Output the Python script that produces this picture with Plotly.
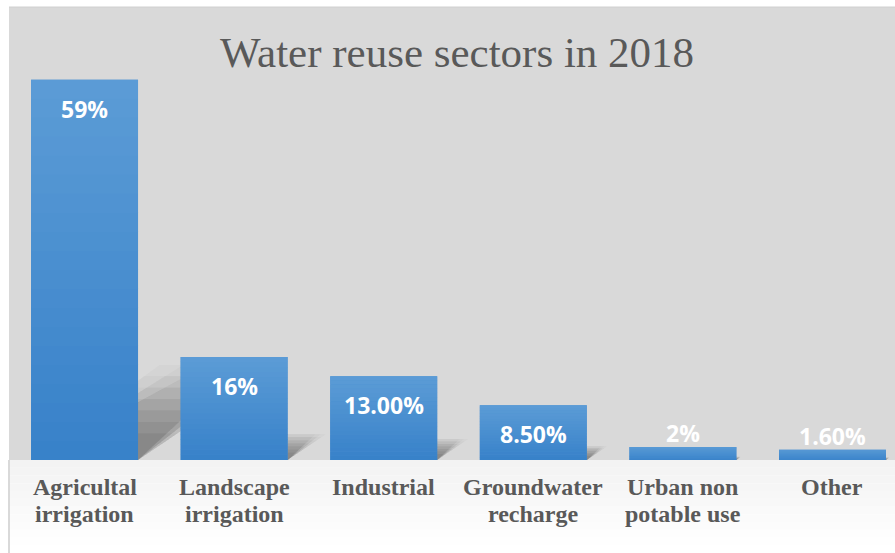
import plotly.graph_objects as go

categories = ["Agricultal<br>irrigation", "Landscape<br>irrigation", "Industrial",
              "Groundwater<br>recharge", "Urban non<br>potable use", "Other"]
values = [59, 16, 13, 8.5, 2, 1.6]
labels = ["59%", "16%", "13.00%", "8.50%", "2%", "1.60%"]
title_text = "Water reuse sectors in 2018"

W, H = 895, 553
ML, MR, MT, MB = 9, 0, 7, 93
plot_w = W - ML - MR
plot_h = H - MT - MB
x_range = [-0.505, 5.418]
y_range = [0, 70.3]
px_x = plot_w / (x_range[1] - x_range[0])
px_y = plot_h / (y_range[1] - y_range[0])
bar_w = 0.715

idx = list(range(len(categories)))

fig = go.Figure()
fig.add_trace(go.Bar(x=idx, y=values, width=bar_w, marker=dict(color="#4a8fd0", line=dict(width=0)),
                     hoverinfo="skip", showlegend=False))

shapes = []

def lerp(c1, c2, t):
    a = [int(c1[i:i + 2], 16) for i in (1, 3, 5)]
    b = [int(c2[i:i + 2], 16) for i in (1, 3, 5)]
    return "#" + "".join(f"{round(a[k] + (b[k] - a[k]) * t):02x}" for k in range(3))

# soft floor shadows (below bars): many faint layers with varied slope and length
for i, v in zip(idx, values):
    x0, x1 = i - bar_w / 2, i + bar_w / 2
    for f in (0.07, 0.10, 0.13, 0.16, 0.19, 0.22, 0.25):
        for s in (1.35, 1.6, 1.85):
            rise = f * v
            dx = s * rise * px_y / px_x
            path = f"M {x0},0 L {x0 + dx},{rise} L {x1 + dx * 0.8},{rise} L {x1},0 Z"
            shapes.append(dict(type="path", path=path, xref="x", yref="y", fillcolor="#444444",
                               opacity=0.032, line=dict(width=0), layer="below"))

# bar gradients
N = 20
top_c, bot_c = "#5c9cd6", "#3781c9"
for i, v in zip(idx, values):
    for k in range(N):
        t = (k + 0.5) / N
        shapes.append(dict(type="rect", xref="x", yref="y", x0=i - bar_w / 2, x1=i + bar_w / 2,
                           y0=v * k / N, y1=v * (k + 1) / N + (v / N * 0.05 if k < N - 1 else 0),
                           fillcolor=lerp(bot_c, top_c, t), line=dict(width=0), layer="above"))

# lower white band with subtle gradient
M = 12
yb = -MB / plot_h
for k in range(M):
    t = k / (M - 1)
    shapes.append(dict(type="rect", xref="paper", yref="paper", x0=0, x1=1,
                       y0=yb * (k + 1) / M, y1=yb * k / M,
                       fillcolor=lerp("#f3f3f3", "#ffffff", t), line=dict(width=0), layer="below"))
shapes.append(dict(type="line", xref="paper", yref="paper", x0=0, x1=0, y0=yb, y1=0,
                   line=dict(color="#d9d9d9", width=2)))
shapes.append(dict(type="line", xref="paper", yref="paper", x0=0, x1=1, y0=1, y1=1,
                   line=dict(color="#d0d0d0", width=1)))

annotations = []
for i, v, lab in zip(idx, values, labels):
    inside = v * px_y > 50
    annotations.append(dict(x=i, y=v, xref="x", yref="y", text=lab, showarrow=False,
                            yanchor="middle", yshift=-29 if inside else 14,
                            font=dict(family="Open Sans", size=23, color="#ffffff", weight="bold")))

# category labels, one annotation per line for tighter line spacing
for i, cat in zip(idx, categories):
    for j, line in enumerate(cat.split("<br>")):
        annotations.append(dict(x=i, y=0, xref="x", yref="paper", text=line, showarrow=False,
                                xanchor="center", yanchor="middle", yshift=-27 - 27 * j,
                                font=dict(family="Liberation Serif", size=24, color="#595959",
                                          weight="bold")))

fig.update_layout(
    width=W, height=H,
    margin=dict(l=ML, r=MR, t=MT, b=MB, pad=0),
    paper_bgcolor="#ffffff",
    plot_bgcolor="#d9d9d9",
    title=dict(text=title_text, x=457 / W, xref="container", xanchor="center",
               y=1 - 52 / H, yref="container", yanchor="middle",
               font=dict(family="Liberation Serif", size=43, color="#595959")),
    xaxis=dict(range=x_range, tickmode="array", tickvals=idx, ticktext=[""] * len(idx),
               showgrid=False, zeroline=False, showline=False, ticks="", showticklabels=False),
    yaxis=dict(range=y_range, showgrid=False, zeroline=False, showline=False,
               showticklabels=False, ticks=""),
    shapes=shapes,
    annotations=annotations,
    bargap=0.285,
)

fig.write_html("out.html")
